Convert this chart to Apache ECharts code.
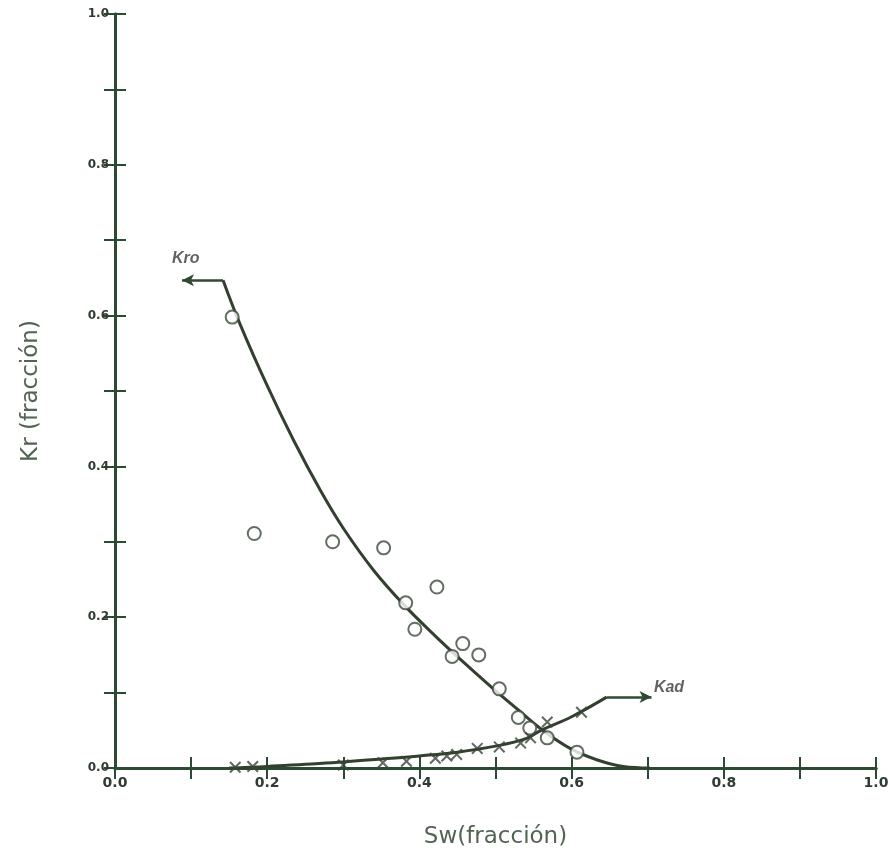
<!DOCTYPE html>
<html>
<head>
<meta charset="utf-8">
<script src="https://cdn.jsdelivr.net/npm/echarts@6/dist/echarts.min.js"></script>
<style>html,body{margin:0;padding:0;background:#fff;}#c{width:892px;height:854px;}</style>
</head>
<body>
<div id="c"></div>
<script>
// Curve Kro (relative permeability to oil)
const kroCurve = [[0.142,0.647],[0.165,0.587],[0.200,0.507],[0.235,0.434],[0.270,0.368],[0.300,0.318],[0.340,0.262],[0.380,0.216],[0.420,0.176],[0.455,0.143],[0.495,0.107],[0.530,0.077],[0.562,0.050],[0.598,0.026],[0.633,0.011],[0.668,0.002],[0.703,0.0]];
// Kro measured points (circles)
const kroPoints = [[0.154,0.598],[0.183,0.311],[0.286,0.300],[0.353,0.292],[0.382,0.219],[0.423,0.240],[0.394,0.184],[0.457,0.165],[0.443,0.148],[0.478,0.150],[0.505,0.105],[0.530,0.067],[0.545,0.053],[0.568,0.040],[0.607,0.021]];
// Curve Kad (relative permeability to water)
const kadCurve = [[0.150,0.0],[0.200,0.002],[0.250,0.005],[0.300,0.008],[0.350,0.012],[0.400,0.016],[0.450,0.021],[0.500,0.029],[0.540,0.039],[0.560,0.050],[0.600,0.068],[0.646,0.094]];
// Kad measured points (crosses)
const kadPoints = [[0.158,0.001],[0.181,0.002],[0.300,0.004],[0.352,0.007],[0.383,0.009],[0.421,0.013],[0.436,0.016],[0.449,0.018],[0.476,0.026],[0.505,0.028],[0.533,0.033],[0.546,0.040],[0.568,0.061],[0.613,0.074]];
// Arrows to labels
const kroArrow = [[0.142,0.647],[0.088,0.647]];
const kadArrow = [[0.646,0.094],[0.705,0.094]];
// Curve labels
const curveLabels = [{name: 'Kro', value: [0.093,0.675]}, {name: 'Kad', value: [0.728,0.107]}];
const tickLabels = ['0.0','0.2','0.4','0.6','0.8','1.0'];

const axisColor = '#2a4a32';
const ink = '#2f3b30';
const lineInk = '#33402f';
const fmt = v => { const k = Math.round(v*10); return k % 2 === 0 ? tickLabels[k/2] : ''; };
const crossPath = 'path://M0,1.2 L1.2,0 L5,3.8 L8.8,0 L10,1.2 L6.2,5 L10,8.8 L8.8,10 L5,6.2 L1.2,10 L0,8.8 L3.8,5 Z';

const arrowMark = (pts) => ({
  silent: true, symbol: ['none','arrow'], symbolSize: [9, 12],
  lineStyle: {type: 'solid', color: '#2f4a30', width: 2.5},
  label: {show: false}, emphasis: {disabled: true},
  data: [[{coord: pts[0]}, {coord: pts[1]}]]
});

const chart = echarts.init(document.getElementById('c'));
chart.setOption({
  backgroundColor: '#fff',
  animation: false,
  grid: {left: 115, right: 16, top: 14, bottom: 81},
  xAxis: [{
    type: 'value', min: 0, max: 1, interval: 0.1,
    name: 'Sw(fracción)', nameLocation: 'middle', nameGap: 58,
    nameTextStyle: {fontSize: 23, color: '#546454', fontFamily: 'DejaVu Sans'},
    axisLine: {lineStyle: {color: axisColor, width: 3}},
    axisTick: {inside: true, length: 11, lineStyle: {color: axisColor, width: 2}},
    axisLabel: {formatter: fmt, fontSize: 14, fontWeight: 'bold', fontFamily: 'DejaVu Sans', color: ink, margin: 8, showMinLabel: true, showMaxLabel: true},
    splitLine: {show: false}
  },{
    type: 'value', min: 0, max: 1, interval: 0.1, position: 'top',
    axisLine: {lineStyle: {color: axisColor, width: 3}},
    axisTick: {inside: true, length: 11, lineStyle: {color: axisColor, width: 2}},
    axisLabel: {show: false}, splitLine: {show: false}
  }],
  yAxis: [{
    type: 'value', min: 0, max: 1, interval: 0.1,
    name: 'Kr (fracción)', nameLocation: 'middle', nameGap: 72, nameRotate: 90,
    nameTextStyle: {fontSize: 23, color: '#546454', fontFamily: 'DejaVu Sans'},
    axisLine: {show: true, lineStyle: {color: axisColor, width: 3}},
    axisTick: {show: true, inside: true, length: 11, lineStyle: {color: axisColor, width: 2}},
    axisLabel: {formatter: fmt, fontSize: 12, fontWeight: 'bold', fontFamily: 'DejaVu Sans', color: ink, margin: 6},
    splitLine: {show: false}
  },{
    type: 'value', min: 0, max: 1, interval: 0.1, position: 'right',
    axisLine: {show: true, lineStyle: {color: axisColor, width: 3}},
    axisTick: {show: true, inside: true, length: 11, lineStyle: {color: axisColor, width: 2}},
    axisLabel: {show: false}, splitLine: {show: false}
  }],
  series: [
    {type: 'line', data: kroCurve, smooth: 0.4, symbol: 'none', lineStyle: {color: lineInk, width: 3}, z: 3, markLine: arrowMark(kroArrow)},
    {type: 'line', data: kadCurve, smooth: 0.4, symbol: 'none', lineStyle: {color: lineInk, width: 3}, z: 3, markLine: arrowMark(kadArrow)},
    {type: 'scatter', data: kroPoints, symbol: 'emptyCircle', symbolSize: 13, itemStyle: {color: '#3c4a3c', borderWidth: 2.5, borderColor: '#3c4a3c'}, z: 4},
    {type: 'scatter', data: kadPoints, symbol: crossPath, symbolSize: 12, itemStyle: {color: '#3a4538'}, z: 4},
    {type: 'scatter', data: curveLabels, symbolSize: 0, silent: true, z: 5,
     label: {show: true, position: 'inside', formatter: '{b}', fontSize: 16, fontWeight: 'bold', fontStyle: 'italic', color: '#3a3a38'}}
  ]
});
</script>
</body>
</html>
